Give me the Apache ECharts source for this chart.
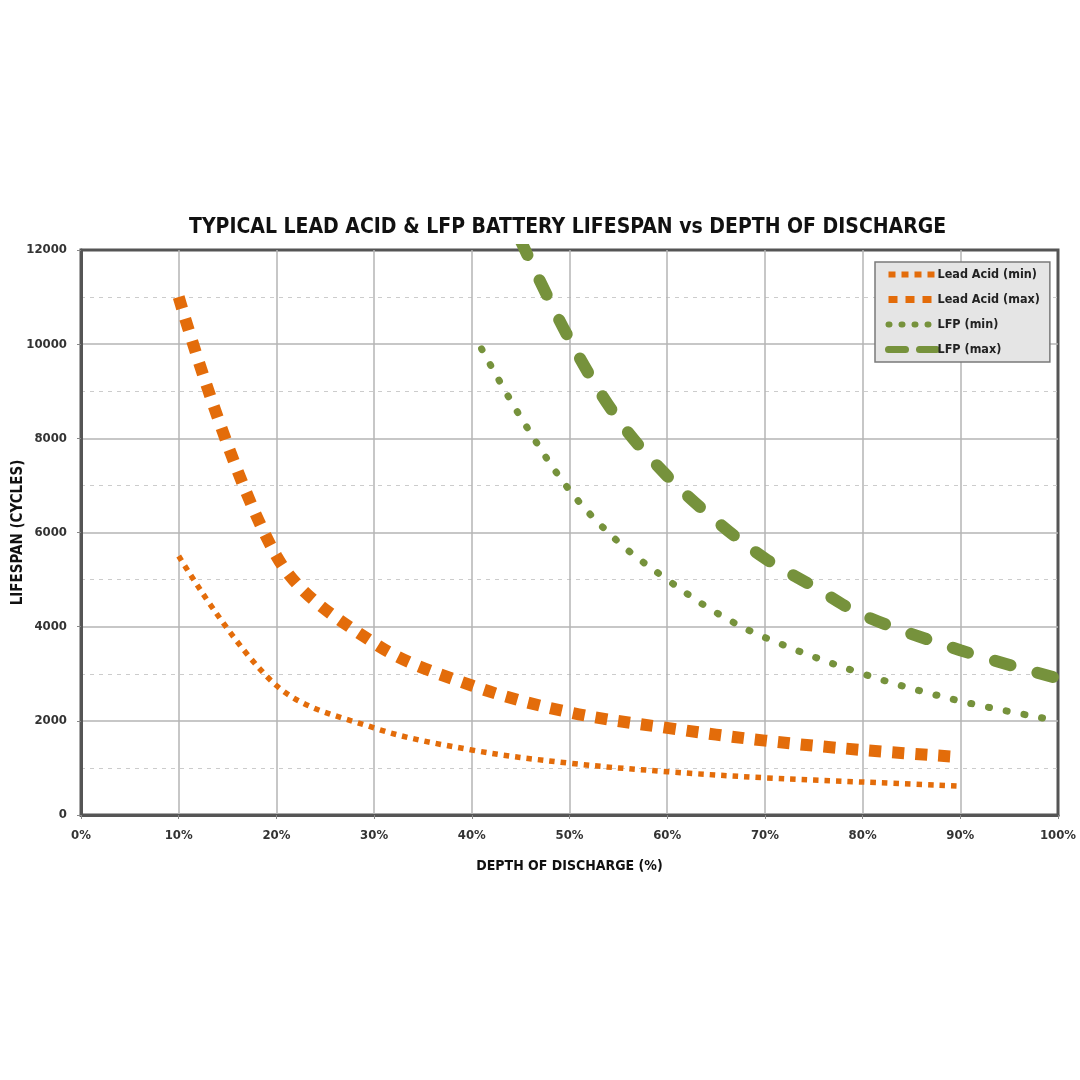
<!DOCTYPE html>
<html>
<head>
<meta charset="utf-8">
<script src="https://cdn.jsdelivr.net/npm/echarts@6/dist/echarts.min.js"></script>
<style>
html,body{margin:0;padding:0;background:#fff;}
#chart{width:1080px;height:1080px;}
</style>
</head>
<body>
<div id="chart"></div>
<script>
// ---- data ----
const titleText = 'TYPICAL LEAD ACID & LFP BATTERY LIFESPAN vs DEPTH OF DISCHARGE';
const xAxisName = 'DEPTH OF DISCHARGE (%)';
const yAxisName = 'LIFESPAN (CYCLES)';
const seriesNames = ['Lead Acid (min)', 'Lead Acid (max)', 'LFP (min)', 'LFP (max)'];

const leadDoD = [10, 20, 30, 40, 50, 60, 70, 80, 90];
const leadMin = [5500, 2750, 1850, 1380, 1100, 920, 790, 700, 615];
const leadMax = [11000, 5500, 3650, 2750, 2180, 1850, 1580, 1380, 1230];

const lfpMinDoD = [41, 45, 50, 55, 60, 65, 70, 80, 90, 100];
const lfpMin = [9900, 8450, 6900, 5800, 5000, 4300, 3770, 3000, 2420, 2000];

const lfpMaxDoD = [45, 50, 55, 60, 65, 70, 75, 80, 90, 100];
const lfpMax = [12200, 10100, 8400, 7200, 6250, 5450, 4850, 4250, 3500, 2900];

const pair = (xs, ys) => xs.map((x, i) => [x, ys[i]]);

const ORANGE = '#E36C0A';
const GREEN = '#76923C';
const FONT = "'Liberation Sans Narrow', 'DejaVu Sans Condensed', 'Roboto', sans-serif";

const chart = echarts.init(document.getElementById('chart'), null, {renderer: 'canvas'});

const styles = [
  {color: ORANGE, width: 5.5, type: [5.5, 6], cap: 'butt'},
  {color: ORANGE, width: 12, type: [12, 11], cap: 'butt'},
  {color: GREEN, width: 7, type: [1, 17], cap: 'round'},
  {color: GREEN, width: 12, type: [16, 28], cap: 'round'}
];
const legendStyles = [
  {color: ORANGE, width: 6, type: [7, 6], cap: 'butt'},
  {color: ORANGE, width: 7, type: [9, 8], cap: 'butt'},
  {color: GREEN, width: 6, type: [1, 12], cap: 'round'},
  {color: GREEN, width: 7, type: [17, 14], cap: 'round'}
];

const option = {
  backgroundColor: '#ffffff',
  animation: false,
  title: {
    text: titleText,
    left: 189,
    top: 217,
    padding: 0,
    textStyle: {fontFamily: FONT, fontWeight: 'bold', fontSize: 21, color: '#111'}
  },
  legend: {
    orient: 'vertical',
    left: 875,
    top: 262,
    padding: [6, 10, 6, 10],
    itemWidth: 48,
    itemHeight: 14,
    itemGap: 12,
    backgroundColor: '#e5e5e5',
    borderColor: '#7a7a7a',
    borderWidth: 1.5,
    itemStyle: {opacity: 0},
    textStyle: {fontFamily: FONT, fontWeight: 'bold', fontSize: 12.5, color: '#222', padding: [0,0,0,-4]},
    data: seriesNames.map((n, i) => ({name: n, lineStyle: legendStyles[i], itemStyle: {opacity: 0}}))
  },
  grid: {
    left: 81, right: 22, top: 250, bottom: 265,
    outerBoundsMode: 'none', containLabel: false,
    show: true, borderColor: '#555', borderWidth: 3, backgroundColor: 'transparent'
  },
  xAxis: {
    type: 'value', min: 0, max: 100, interval: 10,
    name: xAxisName, nameLocation: 'middle', nameGap: 44, nameMoveOverlap: false,
    nameTextStyle: {fontFamily: FONT, fontWeight: 'bold', fontSize: 14, color: '#111'},
    axisLine: {show: true, lineStyle: {color: '#555', width: 3}},
    axisTick: {show: true, length: 4, lineStyle: {color: '#888'}},
    axisLabel: {fontFamily: FONT, fontWeight: 'bold', fontSize: 13, color: '#333', margin: 14,
      formatter: v => v + '%'},
    splitLine: {show: true, showMinLine: false, showMaxLine: false, lineStyle: {color: '#b5b5b5', width: 1.5}}
  },
  yAxis: {
    type: 'value', min: 0, max: 12000, interval: 2000,
    name: yAxisName, nameLocation: 'middle', nameGap: 55, nameRotate: 90, nameMoveOverlap: false,
    nameTextStyle: {fontFamily: FONT, fontWeight: 'bold', fontSize: 15, color: '#111'},
    axisLine: {show: true, lineStyle: {color: '#555', width: 3}},
    axisTick: {show: true, length: 4, lineStyle: {color: '#888'}},
    axisLabel: {fontFamily: FONT, fontWeight: 'bold', fontSize: 13, color: '#333', margin: 14,
      formatter: v => String(v)},
    splitLine: {show: true, showMinLine: false, showMaxLine: false, lineStyle: {color: '#b5b5b5', width: 1.5}},
    minorTick: {show: false, splitNumber: 2},
    minorSplitLine: {show: true, lineStyle: {color: '#cccccc', width: 1, type: [4, 5]}}
  },
  series: [
    {name: seriesNames[0], type: 'line', data: pair(leadDoD, leadMin)},
    {name: seriesNames[1], type: 'line', data: pair(leadDoD, leadMax)},
    {name: seriesNames[2], type: 'line', data: pair(lfpMinDoD, lfpMin)},
    {name: seriesNames[3], type: 'line', data: pair(lfpMaxDoD, lfpMax)}
  ].map((s, i) => Object.assign(s, {
    smooth: 0.35, symbol: 'none', showSymbol: false, clip: true,
    color: styles[i].color, lineStyle: styles[i]
  }))
};
chart.setOption(option);
</script>
</body>
</html>
